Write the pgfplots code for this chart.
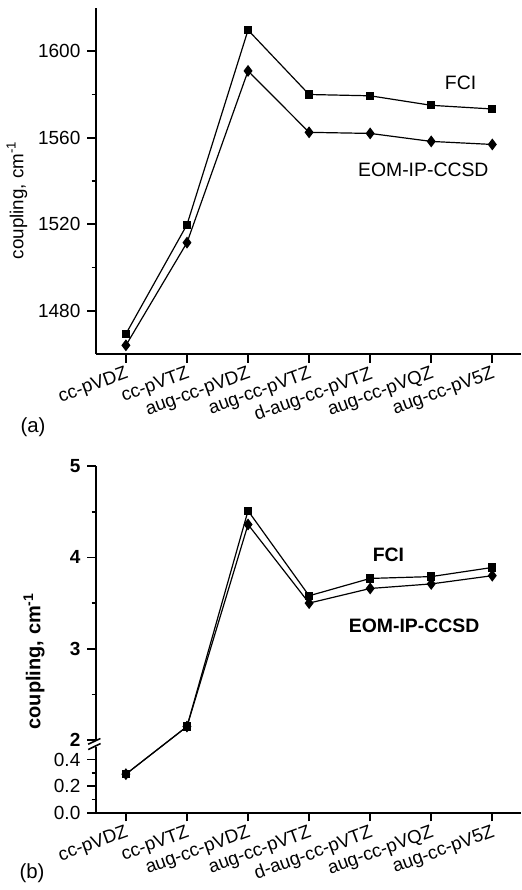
\documentclass[border=0pt]{standalone}
\usepackage{fontspec}
\setmainfont{Liberation Sans}
\usepackage{pgfplots}
\pgfplotsset{compat=1.18}

\pgfplotsset{
  panel/.style={
    scale only axis, width=212.5pt, xmin=-0.49, xmax=6.47, clip=false,
    axis lines=left, axis line style={line width=1pt,-},
    tick align=outside, major tick length=4.3pt, minor tick length=2.2pt,
    tick style={line width=0.9pt,black},
    xtick={0,...,6},
    xticklabels={cc-pVDZ,cc-pVTZ,aug-cc-pVDZ,aug-cc-pVTZ,d-aug-cc-pVTZ,aug-cc-pVQZ,aug-cc-pV5Z},
    xticklabel style={rotate=20,anchor=north east,inner sep=1pt,font=\fontsize{9.3}{11}\selectfont},
    yticklabel style={font=\fontsize{9.5}{11}\selectfont},
    /pgf/number format/assume math mode=true,
    /pgf/number format/set thousands separator={},
  },
  fci/.style={black,line width=0.6pt,mark=square*,mark size=1.75pt,mark options={solid,fill=black}},
  eom/.style={black,line width=0.6pt,mark=diamond*,mark size=2.5pt,mark options={solid,fill=black}},
}

\begin{document}
\begin{tikzpicture}
\useasboundingbox (0,0) rectangle (261pt,445pt);

% panel (a)
\begin{axis}[panel, at={(48pt,268pt)}, anchor=south west, height=173pt,
  ymin=1460, ymax=1620, ytick={1480,1520,1560,1600}, minor ytick={1500,1540,1580},
  ylabel={coupling, cm\textsuperscript{-1}},
  ylabel style={at={(axis description cs:-0.186,0.445)},anchor=center,font=\fontsize{9.4}{10}\selectfont}]
\addplot[fci] coordinates {(0,1469.3)(1,1519.8)(2,1609.8)(3,1580)(4,1579.4)(5,1575)(6,1573.3)};
\addplot[eom] coordinates {(0,1464)(1,1511.5)(2,1590.9)(3,1562.5)(4,1562)(5,1558.3)(6,1556.9)};
\node[font=\fontsize{9.7}{11}\selectfont] at (axis cs:5.48,1585.4) {FCI};
\node[font=\fontsize{9.7}{11}\selectfont] at (axis cs:4.87,1545.4) {EOM-IP-CCSD};
\end{axis}
\node[font=\fontsize{10.2}{11}\selectfont] at (16.5pt,231.5pt) {(a)};

% panel (b), broken y axis
\begin{axis}[panel, at={(48pt,38.65pt)}, anchor=south west, height=173.35pt,
  y coord trafo/.code={\pgfmathparse{#1<1 ? 1.4545*#1 : #1-1.207}},
  ymin=0, ymax=5,
  ytick={0,0.2,0.4,2,3,4,5},
  yticklabels={0.0,0.2,0.4,\textbf{2},\textbf{3},\textbf{4},\textbf{5}},
  minor ytick={0.1,0.3,2.5,3.5,4.5},
  ylabel={\bfseries coupling, cm\textsuperscript{-1}},
  ylabel style={at={(axis description cs:-0.146,0.4376)},anchor=center,font=\fontsize{10}{12}\selectfont}]
\addplot[fci] coordinates {(0,0.29)(1,2.15)(2,4.51)(3,3.58)(4,3.77)(5,3.79)(6,3.89)};
\addplot[eom] coordinates {(0,0.29)(1,2.15)(2,4.36)(3,3.50)(4,3.66)(5,3.71)(6,3.80)};
\node[font=\bfseries\fontsize{9.7}{11}\selectfont] at (axis cs:4.30,4.03) {FCI};
\node[font=\bfseries\fontsize{9.7}{11}\selectfont] at (axis cs:4.72,3.254) {EOM-IP-CCSD};
\fill[white] ([xshift=-2pt]rel axis cs:0,0.19) rectangle ([xshift=2pt]rel axis cs:0,0.207);
\draw[line width=0.8pt] ([xshift=-3.9pt]rel axis cs:0,0.1975) -- ([xshift=2.2pt]rel axis cs:0,0.214);
\draw[line width=0.8pt] ([xshift=-3.9pt]rel axis cs:0,0.182) -- ([xshift=2.3pt]rel axis cs:0,0.1996);
\end{axis}
\node[font=\fontsize{10.2}{11}\selectfont] at (16pt,8.5pt) {(b)};
\end{tikzpicture}
\end{document}
